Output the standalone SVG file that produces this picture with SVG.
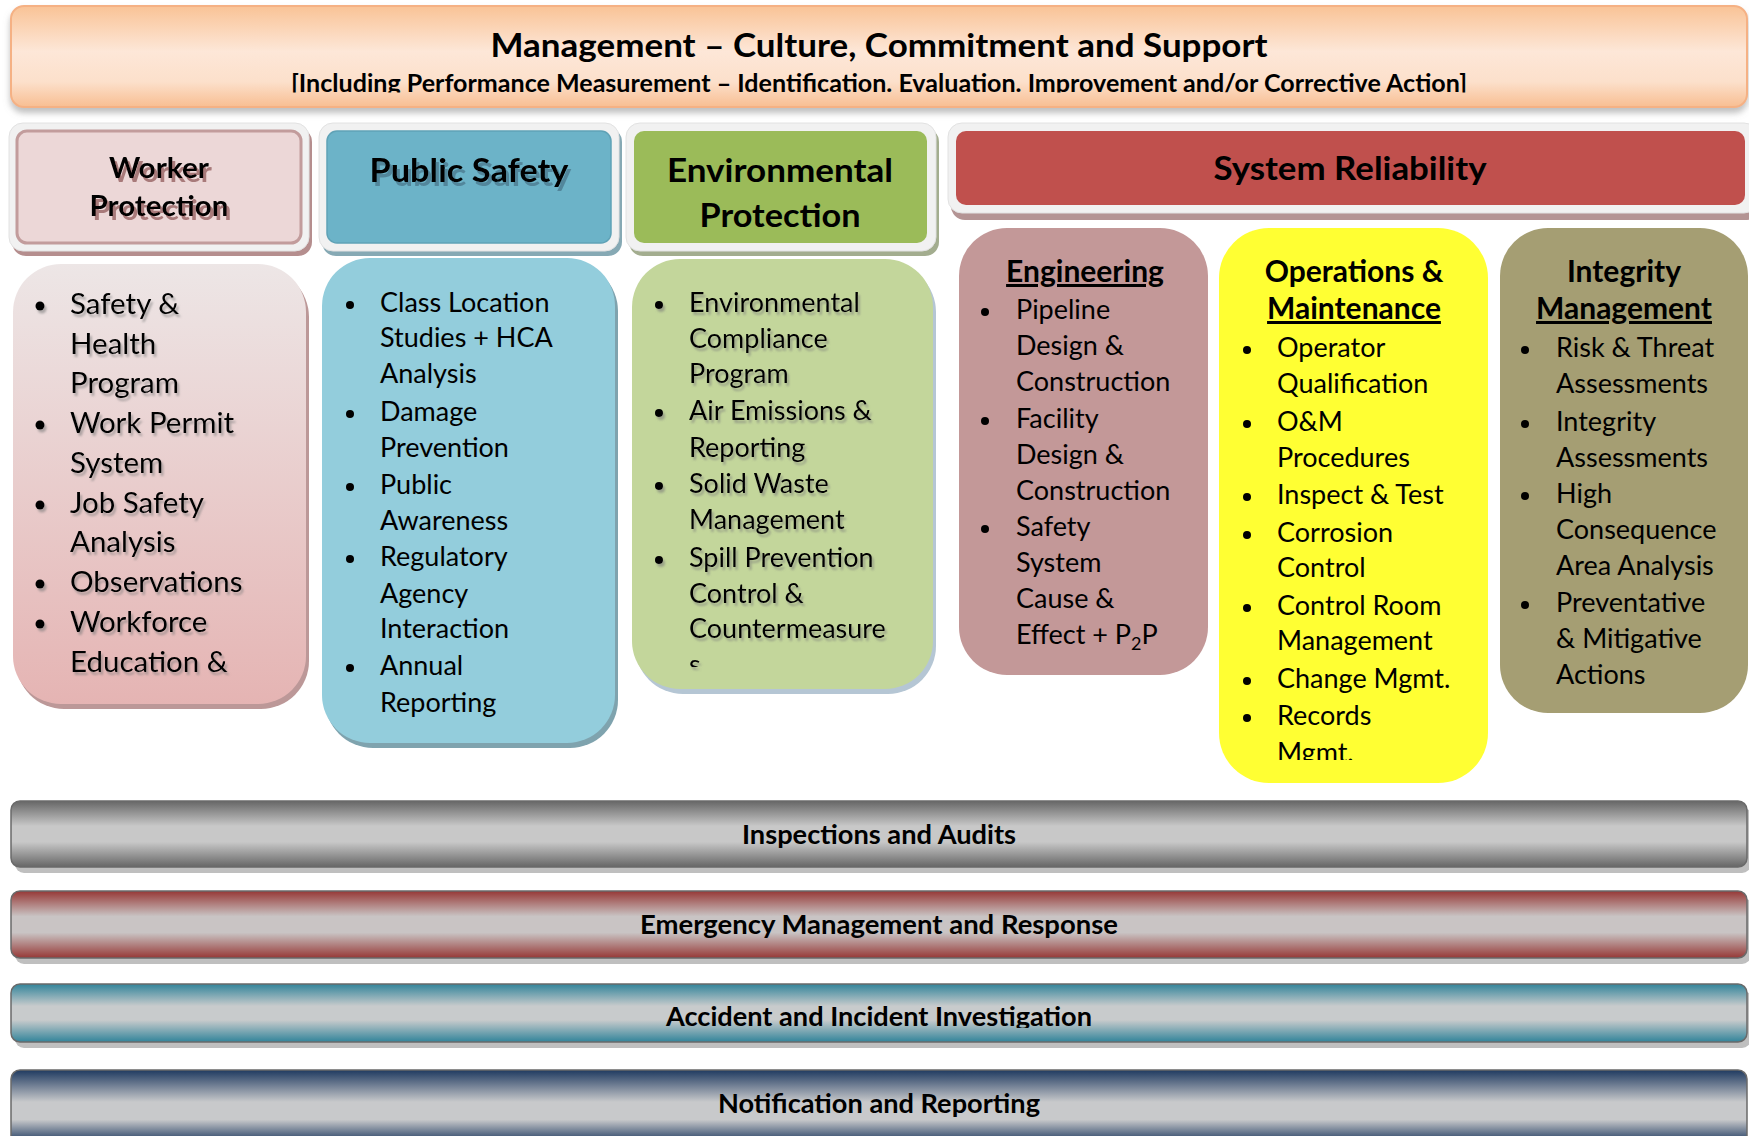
<svg xmlns="http://www.w3.org/2000/svg" width="1749" height="1136" viewBox="0 0 1749 1136">
<defs>
<style>
text{font-family:Lato,"Liberation Sans",sans-serif;fill:#000}
.b{font-weight:bold}
.t1{font-size:33px;font-weight:bold}
.t2{font-size:24px;font-weight:bold}
.hd{font-size:33px;font-weight:bold;text-anchor:middle}
.hw{font-size:29px;font-weight:bold;text-anchor:middle}
.bar{font-size:26px;font-weight:bold;text-anchor:middle}
.lw{font-size:29.5px}
.l{font-size:27px}
.sh{font-size:30px;font-weight:bold;text-anchor:middle}
.u{text-decoration:underline}
.dot{fill:#000}
</style>
<linearGradient id="gBan" x1="0" y1="0" x2="0" y2="1">
<stop offset="0" stop-color="#F9C396"/>
<stop offset="0.45" stop-color="#FDE7D8"/>
<stop offset="0.75" stop-color="#FCE0CB"/>
<stop offset="1" stop-color="#F8BE92"/>
</linearGradient>
<linearGradient id="gWork" x1="0" y1="0" x2="0" y2="1">
<stop offset="0" stop-color="#EDE6E6"/>
<stop offset="1" stop-color="#E5B4B3"/>
</linearGradient>
<linearGradient id="gInsp" x1="0" y1="0" x2="0" y2="1">
<stop offset="0" stop-color="#666666"/>
<stop offset="0.38" stop-color="#C8C8C8"/>
<stop offset="0.62" stop-color="#C8C8C8"/>
<stop offset="1" stop-color="#666666"/>
</linearGradient>
<linearGradient id="gEmer" x1="0" y1="0" x2="0" y2="1">
<stop offset="0" stop-color="#963836"/>
<stop offset="0.38" stop-color="#C9C4C4"/>
<stop offset="0.62" stop-color="#C9C4C4"/>
<stop offset="1" stop-color="#963836"/>
</linearGradient>
<linearGradient id="gAcc" x1="0" y1="0" x2="0" y2="1">
<stop offset="0" stop-color="#32849A"/>
<stop offset="0.38" stop-color="#C8CBCC"/>
<stop offset="0.62" stop-color="#C8CBCC"/>
<stop offset="1" stop-color="#32849A"/>
</linearGradient>
<linearGradient id="gNot" x1="0" y1="0" x2="0" y2="1">
<stop offset="0" stop-color="#1F3A60"/>
<stop offset="0.4" stop-color="#C8C9CB"/>
<stop offset="0.62" stop-color="#C8C9CB"/>
<stop offset="0.9" stop-color="#1F3A60"/>
</linearGradient>
<filter id="fBan" x="-5%" y="-20%" width="110%" height="150%">
<feDropShadow dx="0" dy="5" stdDeviation="3" flood-color="#8A8A8A" flood-opacity="0.55"/>
</filter>
<filter id="tsW" x="-10%" y="-20%" width="130%" height="150%">
<feDropShadow dx="3" dy="4" stdDeviation="0.6" flood-color="#A07070" flood-opacity="0.9"/>
</filter>
<filter id="tsP" x="-10%" y="-20%" width="130%" height="150%">
<feDropShadow dx="3" dy="4" stdDeviation="0.6" flood-color="#4F8296" flood-opacity="0.9"/>
</filter>
<filter id="tsL" x="-10%" y="-20%" width="130%" height="150%">
<feDropShadow dx="2" dy="3" stdDeviation="1" flood-color="#777777" flood-opacity="0.55"/>
</filter>
<clipPath id="cSub"><rect x="0" y="0" width="1749" height="92.5"/></clipPath>
<clipPath id="cEnv"><rect x="0" y="0" width="1749" height="667"/></clipPath>
<clipPath id="cOps"><rect x="0" y="0" width="1749" height="760"/></clipPath>
<clipPath id="cAcc"><rect x="0" y="0" width="1749" height="1028"/></clipPath>
</defs>
<rect width="1749" height="1136" fill="#FFFFFF"/>

<g id="management">
<rect x="11" y="6" width="1736" height="101" rx="13" fill="url(#gBan)" stroke="#F5B184" stroke-width="2" filter="url(#fBan)"/>
<text class="t1" x="879" y="57" text-anchor="middle" textLength="777" lengthAdjust="spacingAndGlyphs">Management – Culture, Commitment and Support</text>
<g clip-path="url(#cSub)"><text class="t2" x="879" y="92" text-anchor="middle" textLength="1176" lengthAdjust="spacingAndGlyphs">[Including Performance Measurement – Identification. Evaluation. Improvement and/or Corrective Action]</text></g>
</g>

<g id="worker-protection-header">
<rect x="12" y="128" width="300" height="128" rx="14" fill="#B58E8E"/>
<rect x="9" y="123" width="300" height="128" rx="14" fill="#F1F1F1" stroke="#E2E2E2"/>
<rect x="17" y="131" width="284" height="112" rx="10" fill="#ECD7D7" stroke="#C29C9C" stroke-width="3"/>
<g filter="url(#tsW)">
<text class="hw" x="159" y="178" textLength="100" lengthAdjust="spacingAndGlyphs">Worker</text>
<text class="hw" x="159" y="216" textLength="139" lengthAdjust="spacingAndGlyphs">Protection</text>
</g>
</g>

<g id="public-safety-header">
<rect x="322" y="128" width="300" height="128" rx="14" fill="#86A9B4"/>
<rect x="319" y="123" width="300" height="128" rx="14" fill="#F1F1F1" stroke="#E2E2E2"/>
<rect x="327" y="131" width="284" height="112" rx="10" fill="#6CB3C8" stroke="#5FA2B6" stroke-width="1.5"/>
<text class="hd" x="469" y="182" textLength="199" lengthAdjust="spacingAndGlyphs" filter="url(#tsP)">Public Safety</text>
</g>

<g id="environmental-protection-header">
<rect x="629" y="128" width="310" height="128" rx="14" fill="#A3AD8F"/>
<rect x="626" y="123" width="310" height="128" rx="14" fill="#F1F1F1" stroke="#E2E2E2"/>
<rect x="634" y="131" width="293" height="112" rx="10" fill="#9BBB59"/>
<text class="hd" x="780" y="182" textLength="226" lengthAdjust="spacingAndGlyphs">Environmental</text>
<text class="hd" x="780" y="227" textLength="161" lengthAdjust="spacingAndGlyphs">Protection</text>
</g>

<g id="system-reliability-header">
<rect x="951" y="128" width="810" height="92" rx="14" fill="#B49494"/>
<rect x="948" y="123" width="810" height="90" rx="14" fill="#F1F1F1" stroke="#E2E2E2"/>
<rect x="956" y="131" width="789" height="74" rx="10" fill="#C0504D"/>
<text class="hd" x="1350" y="180" textLength="273" lengthAdjust="spacingAndGlyphs">System Reliability</text>
</g>

<g id="worker-protection-list">
<rect x="16" y="269" width="293" height="440" rx="48" fill="#BC9898"/>
<rect x="13" y="264" width="293" height="440" rx="48" fill="url(#gWork)"/>
<g filter="url(#tsL)">
<circle class="dot" cx="40" cy="306" r="4.5"/>
<circle class="dot" cx="40" cy="425" r="4.5"/>
<circle class="dot" cx="40" cy="505" r="4.5"/>
<circle class="dot" cx="40" cy="584" r="4.5"/>
<circle class="dot" cx="40" cy="624" r="4.5"/>
<text class="lw" x="70" y="314">Safety &amp;</text>
<text class="lw" x="70" y="354">Health</text>
<text class="lw" x="70" y="393">Program</text>
<text class="lw" x="70" y="433">Work Permit</text>
<text class="lw" x="70" y="473">System</text>
<text class="lw" x="70" y="513">Job Safety</text>
<text class="lw" x="70" y="552">Analysis</text>
<text class="lw" x="70" y="592">Observations</text>
<text class="lw" x="70" y="632">Workforce</text>
<text class="lw" x="70" y="672">Education &amp;</text>
</g>
</g>

<g id="public-safety-list">
<rect x="325" y="263" width="293" height="485" rx="48" fill="#7FA3AE"/>
<rect x="322" y="258" width="293" height="485" rx="48" fill="#93CDDC"/>
<circle class="dot" cx="350" cy="305" r="4"/>
<circle class="dot" cx="350" cy="414" r="4"/>
<circle class="dot" cx="350" cy="487" r="4"/>
<circle class="dot" cx="350" cy="559" r="4"/>
<circle class="dot" cx="350" cy="668" r="4"/>
<text class="l" x="380" y="312">Class Location</text>
<text class="l" x="380" y="347">Studies + HCA</text>
<text class="l" x="380" y="383">Analysis</text>
<text class="l" x="380" y="421">Damage</text>
<text class="l" x="380" y="457">Prevention</text>
<text class="l" x="380" y="494">Public</text>
<text class="l" x="380" y="530">Awareness</text>
<text class="l" x="380" y="566">Regulatory</text>
<text class="l" x="380" y="603">Agency</text>
<text class="l" x="380" y="638">Interaction</text>
<text class="l" x="380" y="675">Annual</text>
<text class="l" x="380" y="712">Reporting</text>
</g>

<g id="environmental-protection-list">
<rect x="635" y="264" width="301" height="430" rx="48" fill="#B5C6D4"/>
<rect x="632" y="259" width="301" height="430" rx="48" fill="#C3D69B"/>
<g filter="url(#tsL)">
<circle class="dot" cx="659" cy="305" r="4"/>
<circle class="dot" cx="659" cy="413" r="4"/>
<circle class="dot" cx="659" cy="486" r="4"/>
<circle class="dot" cx="659" cy="560" r="4"/>
<text class="l" x="689" y="312">Environmental</text>
<text class="l" x="689" y="348">Compliance</text>
<text class="l" x="689" y="383">Program</text>
<text class="l" x="689" y="420">Air Emissions &amp;</text>
<text class="l" x="689" y="457">Reporting</text>
<text class="l" x="689" y="493">Solid Waste</text>
<text class="l" x="689" y="529">Management</text>
<text class="l" x="689" y="567">Spill Prevention</text>
<text class="l" x="689" y="603">Control &amp;</text>
<text class="l" x="689" y="638">Countermeasure</text>
<g clip-path="url(#cEnv)"><text class="l" x="689" y="674">s</text></g>
</g>
</g>

<g id="engineering">
<rect x="959" y="228" width="249" height="447" rx="48" fill="#C39898"/>
<text class="sh u" x="1085" y="282">Engineering</text>
<circle class="dot" cx="985" cy="312" r="4"/>
<circle class="dot" cx="985" cy="421" r="4"/>
<circle class="dot" cx="985" cy="529" r="4"/>
<text class="l" x="1016" y="319">Pipeline</text>
<text class="l" x="1016" y="355">Design &amp;</text>
<text class="l" x="1016" y="391">Construction</text>
<text class="l" x="1016" y="428">Facility</text>
<text class="l" x="1016" y="464">Design &amp;</text>
<text class="l" x="1016" y="500">Construction</text>
<text class="l" x="1016" y="536">Safety</text>
<text class="l" x="1016" y="572">System</text>
<text class="l" x="1016" y="608">Cause &amp;</text>
<text class="l" x="1016" y="644">Effect + P<tspan font-size="18" dy="6">2</tspan><tspan dy="-6">P</tspan></text>
</g>

<g id="operations-maintenance">
<rect x="1219" y="228" width="269" height="555" rx="50" fill="#FFFF33"/>
<text class="sh" x="1354" y="282">Operations &amp;</text>
<text class="sh u" x="1354" y="319">Maintenance</text>
<circle class="dot" cx="1247" cy="350" r="4"/>
<circle class="dot" cx="1247" cy="424" r="4"/>
<circle class="dot" cx="1247" cy="497" r="4"/>
<circle class="dot" cx="1247" cy="535" r="4"/>
<circle class="dot" cx="1247" cy="608" r="4"/>
<circle class="dot" cx="1247" cy="681" r="4"/>
<circle class="dot" cx="1247" cy="718" r="4"/>
<text class="l" x="1277" y="357">Operator</text>
<text class="l" x="1277" y="393">Qualification</text>
<text class="l" x="1277" y="431">O&amp;M</text>
<text class="l" x="1277" y="467">Procedures</text>
<text class="l" x="1277" y="504">Inspect &amp; Test</text>
<text class="l" x="1277" y="542">Corrosion</text>
<text class="l" x="1277" y="577">Control</text>
<text class="l" x="1277" y="615">Control Room</text>
<text class="l" x="1277" y="650">Management</text>
<text class="l" x="1277" y="688">Change Mgmt.</text>
<text class="l" x="1277" y="725">Records</text>
<g clip-path="url(#cOps)"><text class="l" x="1277" y="762">Mgmt.</text></g>
</g>

<g id="integrity-management">
<rect x="1500" y="228" width="248" height="485" rx="48" fill="#A59E73"/>
<text class="sh" x="1624" y="282">Integrity</text>
<text class="sh u" x="1624" y="319">Management</text>
<circle class="dot" cx="1525" cy="350" r="4"/>
<circle class="dot" cx="1525" cy="424" r="4"/>
<circle class="dot" cx="1525" cy="496" r="4"/>
<circle class="dot" cx="1525" cy="605" r="4"/>
<text class="l" x="1556" y="357">Risk &amp; Threat</text>
<text class="l" x="1556" y="393">Assessments</text>
<text class="l" x="1556" y="431">Integrity</text>
<text class="l" x="1556" y="467">Assessments</text>
<text class="l" x="1556" y="503">High</text>
<text class="l" x="1556" y="539">Consequence</text>
<text class="l" x="1556" y="575">Area Analysis</text>
<text class="l" x="1556" y="612">Preventative</text>
<text class="l" x="1556" y="648">&amp; Mitigative</text>
<text class="l" x="1556" y="684">Actions</text>
</g>

<g id="inspections-audits">
<rect x="15" y="807" width="1736" height="66" rx="9" fill="#BFBFBF"/>
<rect x="11" y="801" width="1736" height="66" rx="9" fill="url(#gInsp)" stroke="#6A6A6A" stroke-width="1.5"/>
<text class="bar" x="879" y="844" textLength="274" lengthAdjust="spacingAndGlyphs">Inspections and Audits</text>
</g>

<g id="emergency-management">
<rect x="15" y="897" width="1736" height="67" rx="9" fill="#BFBFBF"/>
<rect x="11" y="891" width="1736" height="67" rx="9" fill="url(#gEmer)" stroke="#6A6A6A" stroke-width="1.5"/>
<text class="bar" x="879" y="934" textLength="478" lengthAdjust="spacingAndGlyphs">Emergency Management and Response</text>
</g>

<g id="accident-investigation">
<rect x="15" y="990" width="1736" height="58" rx="9" fill="#BFBFBF"/>
<rect x="11" y="984" width="1736" height="58" rx="9" fill="url(#gAcc)" stroke="#6A6A6A" stroke-width="1.5"/>
<g clip-path="url(#cAcc)"><text class="bar" x="879" y="1026" textLength="426" lengthAdjust="spacingAndGlyphs">Accident and Incident Investigation</text></g>
</g>

<g id="notification-reporting">
<rect x="11" y="1070" width="1736" height="80" rx="9" fill="url(#gNot)" stroke="#6A6A6A" stroke-width="1.5"/>
<text class="bar" x="879" y="1113" textLength="322" lengthAdjust="spacingAndGlyphs">Notification and Reporting</text>
</g>
</svg>
